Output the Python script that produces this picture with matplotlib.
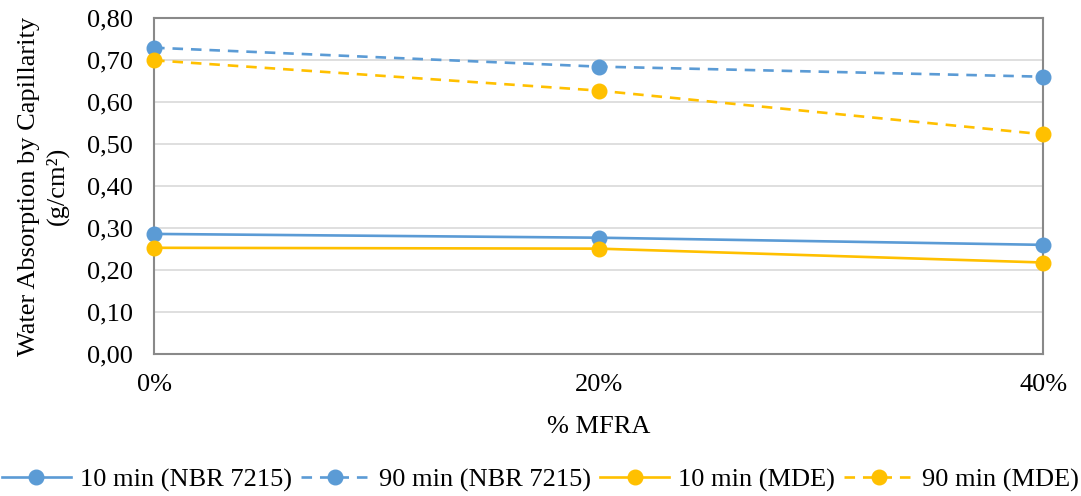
import matplotlib.pyplot as plt
from matplotlib.ticker import FuncFormatter

plt.rcParams['font.family'] = ['Liberation Serif', 'DejaVu Serif']

# data
mfra = [0, 20, 40]
mfra_labels = ['0%', '20%', '40%']
nbr_10 = [0.286, 0.277, 0.260]
nbr_90 = [0.729, 0.684, 0.660]
mde_10 = [0.253, 0.251, 0.218]
mde_90 = [0.699, 0.627, 0.523]

blue = '#5B9BD5'
yellow = '#FFC000'
fs = 19

fig = plt.figure(figsize=(10.81, 4.96), dpi=100)
ax = fig.add_axes([0.1425, 0.286, 0.8225, 0.678])

ax.plot(mfra, nbr_10, color=blue, lw=1.9, marker='o', ms=10.5, label='10 min (NBR 7215)', zorder=5, clip_on=False)
ax.plot(mfra, nbr_90, color=blue, lw=1.9, ls=(0, (4, 3)), marker='o', ms=10.5, label='90 min (NBR 7215)', zorder=5, clip_on=False)
ax.plot(mfra, mde_10, color=yellow, lw=1.9, marker='o', ms=10.5, label='10 min (MDE)', zorder=5, clip_on=False)
ax.plot(mfra, mde_90, color=yellow, lw=1.9, ls=(0, (4, 3)), marker='o', ms=10.5, label='90 min (MDE)', zorder=5, clip_on=False)

ax.set_xlim(0, 40)
ax.set_ylim(0, 0.8)
ax.set_xticks(mfra)
ax.set_xticklabels(mfra_labels)
ax.set_yticks([i / 10 for i in range(9)])
ax.yaxis.set_major_formatter(FuncFormatter(lambda v, p: f'{v:.2f}'.replace('.', ',')))
ax.tick_params(axis='both', labelsize=fs, length=0, colors='black')
ax.tick_params(axis='x', pad=14)
ax.tick_params(axis='y', pad=15)
ax.grid(axis='y', color='#D9D9D9', lw=1.2)
ax.set_axisbelow(True)
for s in ax.spines.values():
    s.set_color('#898989')
    s.set_linewidth(1.5)
    s.set_zorder(4)

ax.set_xlabel('% MFRA', fontsize=fs, labelpad=15)
ax.set_ylabel('Water Absorption by Capillarity\n(g/cm²)', fontsize=fs, labelpad=13, linespacing=1.3)

fig.legend(loc='center', bbox_to_anchor=(0.5, 0.032), ncol=4, frameon=False,
           fontsize=fs, handlelength=2.6, columnspacing=0.35, handletextpad=0.35,
           borderpad=0, borderaxespad=0)

fig.savefig('out.png', dpi=100)
